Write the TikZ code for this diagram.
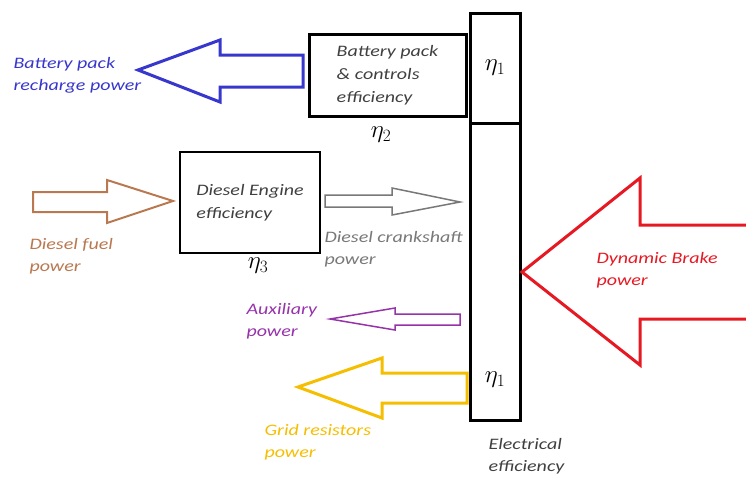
\documentclass[tikz,border=0pt]{standalone}
\usepackage{fontspec}
\setmainfont{Carlito}[FakeStretch=1.25]
\usepackage{tikz}
\definecolor{battblue}{RGB}{55,55,205}
\definecolor{fuelbrown}{RGB}{185,120,80}
\definecolor{crankgray}{RGB}{120,120,120}
\definecolor{auxpurple}{RGB}{150,50,170}
\definecolor{gridyellow}{RGB}{245,190,0}
\definecolor{brakered}{RGB}{230,25,35}

\begin{document}
\begin{tikzpicture}[x=1pt,y=-1pt,
  lbl/.style={anchor=west,align=left,font=\itshape\fontsize{16}{22}\selectfont},
  box/.style={draw,line width=3pt,align=left,text=black!75,font=\itshape\fontsize{16}{23}\selectfont},
  eff/.style={font=\fontsize{27}{27}\selectfont}]
\useasboundingbox (0,0) rectangle (746,480);
% electrical block
\node[draw,line width=3pt,minimum width=50pt,minimum height=110pt,inner sep=0pt] (electop) at (495,68) {};
\node[draw,line width=3pt,minimum width=50pt,minimum height=297pt,inner sep=0pt] (elecbot) at (495,271.5) {};
\node[eff] (eta1a) at (electop.center) {$\eta_1$};
\node[eff] (eta1b) at (495,380) {$\eta_1$};
\node[lbl,text=black!75] (electxt) at (485,456) {Electrical\\efficiency};
% battery pack
\node[box,minimum width=157pt,minimum height=82pt] (battbox) at (387.5,75) {Battery pack\\\& controls\\efficiency};
\node[eff] (eta2) at (381,135) {$\eta_2$};
\draw[battblue,line width=3pt] (303,55) -- (220,55) -- (220,40) -- (138,70) -- (220,102) -- (220,87) -- (303,87) -- cycle;
\node[lbl,text=battblue] (batttxt) at (10,75) {Battery pack\\recharge power};
% diesel engine
\node[box,line width=2.5pt,minimum width=140pt,minimum height=101pt] (engine) at (250,202.5) {Diesel Engine\\efficiency};
\node[eff] (eta3) at (258,266) {$\eta_3$};
\draw[fuelbrown,line width=2pt] (33,192) -- (107,192) -- (107,180) -- (173,201) -- (107,223) -- (107,212) -- (33,212) -- cycle;
\node[lbl,text=fuelbrown] (fueltxt) at (26,256) {Diesel fuel\\power};
% crankshaft
\draw[crankgray,line width=1.5pt] (325,195) -- (392,195) -- (392,188) -- (460,202) -- (392,215) -- (392,207) -- (325,207) -- cycle;
\node[lbl,text=crankgray] (cranktxt) at (321,249) {Diesel crankshaft\\power};
% auxiliary
\draw[auxpurple,line width=1.5pt] (460,314) -- (395,314) -- (395,308) -- (330,319) -- (395,330) -- (395,325) -- (460,325) -- cycle;
\node[lbl,text=auxpurple] (auxtxt) at (243,321) {Auxiliary\\power};
% grid resistors
\draw[gridyellow,line width=3pt] (467,373) -- (382,373) -- (382,358) -- (298,387) -- (382,418) -- (382,403) -- (467,403) -- cycle;
\node[lbl,text=gridyellow] (gridtxt) at (261,442) {Grid resistors\\power};
% dynamic brake
\draw[brakered,line width=3pt] (746,225) -- (640,225) -- (640,178) -- (522,272) -- (640,365) -- (640,319) -- (746,319);
\node[lbl,text=brakered] (braketxt) at (593,270) {Dynamic Brake\\power};
\end{tikzpicture}
\end{document}
